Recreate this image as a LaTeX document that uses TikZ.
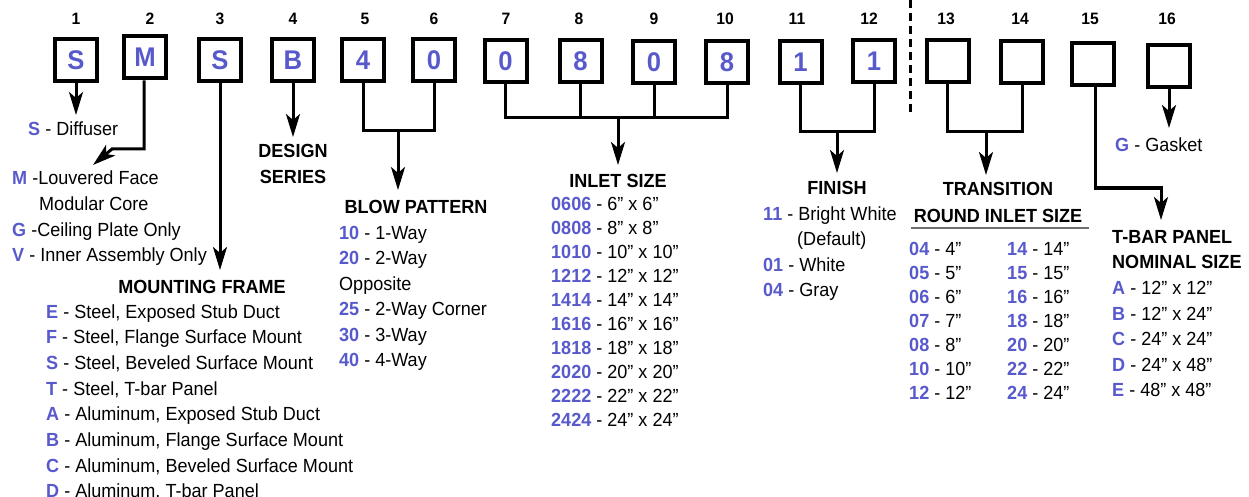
\documentclass[tikz,border=0pt]{standalone}
\usepackage{fontspec}
\setmainfont{Liberation Sans}[FakeStretch=0.95]
\usetikzlibrary{arrows.meta}
\definecolor{codeblue}{RGB}{88,90,204}
\definecolor{rulegray}{RGB}{110,110,110}
\newcommand{\cb}[1]{\textcolor{codeblue}{\bfseries #1}}
\begin{document}
\begin{tikzpicture}[x=1pt,y=-1pt,
 box/.style={draw, line width=4pt, minimum size=42pt, inner sep=0pt, font=\fontsize{27}{27}\selectfont\bfseries, text=codeblue},
 num/.style={font=\fontsize{16.5}{16.5}\selectfont\bfseries, anchor=base, inner sep=0pt},
 txt/.style={font=\fontsize{19}{19}\selectfont, anchor=base west, inner sep=0pt},
 hdr/.style={font=\fontsize{19}{19}\selectfont\bfseries, anchor=base, inner sep=0pt},
 hdrl/.style={font=\fontsize{19}{19}\selectfont\bfseries, anchor=base west, inner sep=0pt},
 conn/.style={line width=3pt},
 arr/.style={line width=3pt, -{Stealth[length=23pt,width=14pt,inset=6pt]}},
]
\useasboundingbox (0,0) rectangle (1249,497);

% position numbers
\node[num] (n1) at (76,25) {1};
\node[num] (n2) at (150,25) {2};
\node[num] (n3) at (220,25) {3};
\node[num] (n4) at (293,25) {4};
\node[num] (n5) at (365,25) {5};
\node[num] (n6) at (434,25) {6};
\node[num] (n7) at (506,25) {7};
\node[num] (n8) at (579,25) {8};
\node[num] (n9) at (654,25) {9};
\node[num] (n10) at (725,25) {10};
\node[num] (n11) at (797,25) {11};
\node[num] (n12) at (869,25) {12};
\node[num] (n13) at (946,25) {13};
\node[num] (n14) at (1020,25) {14};
\node[num] (n15) at (1090,25) {15};
\node[num] (n16) at (1167,25) {16};

% boxes
\node[box] (b1) at (76,60.5) {S};
\node[box] (b2) at (145,57.5) {M};
\node[box] (b3) at (220,60) {S};
\node[box] (b4) at (293,60) {B};
\node[box] (b5) at (363,60) {4};
\node[box] (b6) at (434,60) {0};
\node[box] (b7) at (505.5,61) {0};
\node[box] (b8) at (580.5,61) {8};
\node[box] (b9) at (654,62) {0};
\node[box] (b10) at (727,62) {8};
\node[box] (b11) at (800.5,62) {1};
\node[box] (b12) at (874,61.5) {1};
\node[box] (b13) at (947.5,61.5) {};
\node[box] (b14) at (1022,62) {};
\node[box] (b15) at (1093,64.5) {};
\node[box] (b16) at (1169,66) {};

% dashed separator
\coordinate (dtop) at (910,0);
\coordinate (dbot) at (910,115);
\draw[line width=3pt, dash pattern=on 8pt off 5pt] (dtop) -- (dbot);

% connectors
\coordinate (t1) at (76,115);
\draw[arr] (b1.south) -- (t1);

\coordinate (c2a) at (144,149);
\coordinate (c2b) at (112,149);
\coordinate (t2) at (93,165);
\draw[arr] (b2.south -| c2a) -- (c2a) -- (c2b) -- (t2);

\coordinate (t3) at (220,270);
\draw[arr] (b3.south) -- (t3);

\coordinate (t4) at (293,137);
\draw[arr] (b4.south) -- (t4);

\coordinate (j56) at (398,131);
\coordinate (t56) at (398,190);
\draw[conn] (b5.south) |- (j56) -| (b6.south);
\draw[arr] (j56) -- (t56);

\coordinate (j710) at (618,118);
\coordinate (t710) at (618,165);
\draw[conn] (b7.south) |- (j710) -| (b10.south);
\draw[conn] (b8.south) -- (b8.south |- j710);
\draw[conn] (b9.south) -- (b9.south |- j710);
\draw[arr] (j710) -- (t710);

\coordinate (j1112) at (837,132);
\coordinate (t1112) at (837,173);
\draw[conn] (b11.south) |- (j1112) -| (b12.south);
\draw[arr] (j1112) -- (t1112);

\coordinate (j1314) at (986,132);
\coordinate (t1314) at (986,175);
\draw[conn] (b13.south) |- (j1314) -| (b14.south);
\draw[arr] (j1314) -- (t1314);

\coordinate (c15) at (1095,188);
\coordinate (t15) at (1161,220);
\draw[arr] (b15.south -| c15) -- (c15) -| (t15);

\coordinate (t16) at (1169,128);
\draw[arr] (b16.south) -- (t16);

% texts: position 1 and 2
\node[txt] (s1) at (28,135.5) {\cb{S} - Diffuser};
\node[txt] (m1) at (12,185) {\cb{M} -Louvered Face};
\node[txt] (m2) at (39,210) {Modular Core};
\node[txt] (g1) at (12,236.5) {\cb{G} -Ceiling Plate Only};
\node[txt] (v1) at (12,261.5) {\cb{V} - Inner Assembly Only};

% design series
\node[hdr] (ds1) at (293,158) {DESIGN};
\node[hdr] (ds2) at (293,184) {SERIES};

% mounting frame
\node[hdr] (mf) at (202,293) {MOUNTING FRAME};
\node[txt] (mfE) at (46,318) {\cb{E} - Steel, Exposed Stub Duct};
\node[txt] (mfF) at (46,343.7) {\cb{F} - Steel, Flange Surface Mount};
\node[txt] (mfS) at (46,369.4) {\cb{S} - Steel, Beveled Surface Mount};
\node[txt] (mfT) at (46,395.1) {\cb{T} - Steel, T-bar Panel};
\node[txt] (mfA) at (46,420.8) {\cb{A} - Aluminum, Exposed Stub Duct};
\node[txt] (mfB) at (46,446.5) {\cb{B} - Aluminum, Flange Surface Mount};
\node[txt] (mfC) at (46,472.2) {\cb{C} - Aluminum, Beveled Surface Mount};
\node[txt] (mfD) at (46,497.6) {\cb{D} - Aluminum, T-bar Panel};

% blow pattern
\node[hdr] (bp) at (416,213) {BLOW PATTERN};
\node[txt] (bp1) at (339,239) {\cb{10} - 1-Way};
\node[txt] (bp2) at (339,264.5) {\cb{20} - 2-Way};
\node[txt] (bp3) at (339,290) {Opposite};
\node[txt] (bp4) at (339,315.5) {\cb{25} - 2-Way Corner};
\node[txt] (bp5) at (339,341) {\cb{30} - 3-Way};
\node[txt] (bp6) at (339,366.5) {\cb{40} - 4-Way};

% inlet size
\node[hdr] (is) at (618,187) {INLET SIZE};
\node[txt] (is1) at (551,210.5) {\cb{0606} - 6” x 6”};
\node[txt] (is2) at (551,234.5) {\cb{0808} - 8” x 8”};
\node[txt] (is3) at (551,258.5) {\cb{1010} - 10” x 10”};
\node[txt] (is4) at (551,282.5) {\cb{1212} - 12” x 12”};
\node[txt] (is5) at (551,306.5) {\cb{1414} - 14” x 14”};
\node[txt] (is6) at (551,330.5) {\cb{1616} - 16” x 16”};
\node[txt] (is7) at (551,354.5) {\cb{1818} - 18” x 18”};
\node[txt] (is8) at (551,378.5) {\cb{2020} - 20” x 20”};
\node[txt] (is9) at (551,402.5) {\cb{2222} - 22” x 22”};
\node[txt] (is10) at (551,426.5) {\cb{2424} - 24” x 24”};

% finish
\node[hdr] (fi) at (837,194) {FINISH};
\node[txt] (fi1) at (763,220.5) {\cb{11} - Bright White};
\node[txt] (fi2) at (797,245.5) {(Default)};
\node[txt] (fi3) at (763,271) {\cb{01} - White};
\node[txt] (fi4) at (763,296.5) {\cb{04} - Gray};

% transition
\node[hdr] (tr1) at (998,196) {TRANSITION};
\node[hdr] (tr2) at (998,222) {ROUND INLET SIZE};
\coordinate (ul1) at (911,228);
\coordinate (ul2) at (1089,228);
\draw[rulegray, line width=2pt] (ul1) -- (ul2);
\node[txt] (r1) at (909,255.5) {\cb{04} - 4”};
\node[txt] (r2) at (909,279.5) {\cb{05} - 5”};
\node[txt] (r3) at (909,303.5) {\cb{06} - 6”};
\node[txt] (r4) at (909,327.5) {\cb{07} - 7”};
\node[txt] (r5) at (909,351.5) {\cb{08} - 8”};
\node[txt] (r6) at (909,375.5) {\cb{10} - 10”};
\node[txt] (r7) at (909,399.5) {\cb{12} - 12”};
\node[txt] (r8) at (1007,255.5) {\cb{14} - 14”};
\node[txt] (r9) at (1007,279.5) {\cb{15} - 15”};
\node[txt] (r10) at (1007,303.5) {\cb{16} - 16”};
\node[txt] (r11) at (1007,327.5) {\cb{18} - 18”};
\node[txt] (r12) at (1007,351.5) {\cb{20} - 20”};
\node[txt] (r13) at (1007,375.5) {\cb{22} - 22”};
\node[txt] (r14) at (1007,399.5) {\cb{24} - 24”};

% t-bar panel
\node[hdrl] (tb1) at (1112,243.5) {T-BAR PANEL};
\node[hdrl] (tb2) at (1112,268) {NOMINAL SIZE};
\node[txt] (tbA) at (1112,294) {\cb{A} - 12” x 12”};
\node[txt] (tbB) at (1112,320) {\cb{B} - 12” x 24”};
\node[txt] (tbC) at (1112,345) {\cb{C} - 24” x 24”};
\node[txt] (tbD) at (1112,371) {\cb{D} - 24” x 48”};
\node[txt] (tbE) at (1112,396) {\cb{E} - 48” x 48”};

% gasket
\node[txt] (gk) at (1115,151.5) {\cb{G} - Gasket};
\end{tikzpicture}
\end{document}
